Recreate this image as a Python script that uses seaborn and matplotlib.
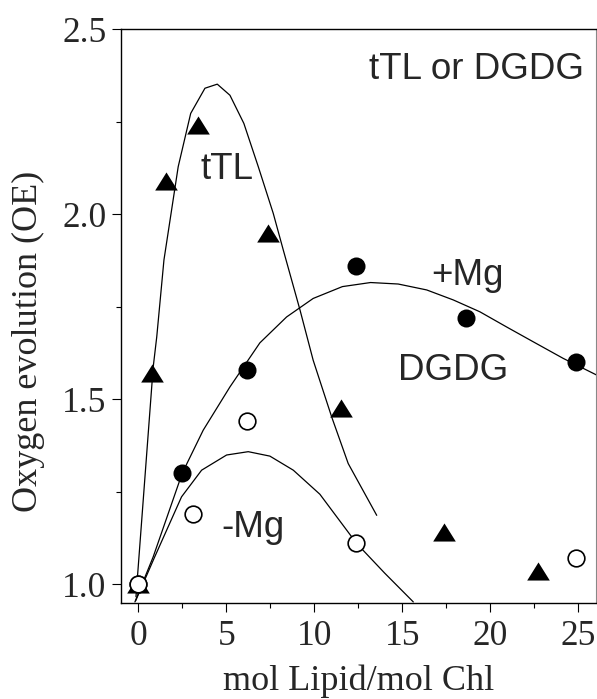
import matplotlib
matplotlib.use("Agg")
import matplotlib.pyplot as plt
from matplotlib.ticker import MultipleLocator
import seaborn as sns
import pandas as pd

# ---- data ----
# measured points
ttl_x = [0.0, 0.8, 1.6, 3.4, 7.4, 11.5, 17.4, 22.7]
ttl_y = [1.00, 1.57, 2.09, 2.24, 1.95, 1.475, 1.14, 1.035]
mg_plus_x = [0.0, 2.5, 6.2, 12.4, 18.6, 24.9]
mg_plus_y = [1.00, 1.30, 1.58, 1.86, 1.72, 1.60]
mg_minus_x = [0.0, 3.1, 6.2, 12.4, 24.85]
mg_minus_y = [1.00, 1.19, 1.44, 1.11, 1.07]

# fitted curves (polyline vertices)
ttl_fit_x = [-0.13, 0.85, 1.05, 1.46, 2.27, 2.98, 3.79, 4.49, 5.21, 6.0, 6.82,
             7.67, 8.24, 9.19, 9.94, 10.99, 11.93, 13.55]
ttl_fit_y = [0.966, 1.587, 1.668, 1.876, 2.128, 2.272, 2.340, 2.351, 2.321,
             2.245, 2.128, 2.002, 1.903, 1.741, 1.605, 1.452, 1.326, 1.186]
plus_fit_x = [-0.19, 0.85, 2.5, 3.69, 5.21, 6.91, 8.43, 9.94, 11.6, 13.2,
              14.77, 16.39, 17.9, 19.41, 20.93, 22.44, 24.15, 26.05]
plus_fit_y = [0.952, 1.074, 1.30, 1.416, 1.533, 1.652, 1.722, 1.772, 1.804,
              1.815, 1.811, 1.795, 1.768, 1.736, 1.695, 1.655, 1.610, 1.565]
minus_fit_x = [-0.15, 0.9, 2.46, 3.60, 5.02, 6.25, 7.48, 8.81, 10.32, 12.41,
               14.0, 15.63]
minus_fit_y = [0.955, 1.07, 1.236, 1.308, 1.349, 1.358, 1.346, 1.308, 1.243,
               1.110, 1.03, 0.952]

x_ticks = [0, 5, 10, 15, 20, 25]
y_ticks = [1.0, 1.5, 2.0, 2.5]

# ---- plotting ----
sns.set_style("white")
plt.rcParams["font.family"] = ["Liberation Serif", "DejaVu Serif"]

fig = plt.figure(figsize=(5.97, 6.99), dpi=100)
ax = fig.add_axes([0.2027, 0.1378, 0.7953, 0.8207])

lw = 0.9
for fx, fy in [(ttl_fit_x, ttl_fit_y), (plus_fit_x, plus_fit_y),
               (minus_fit_x, minus_fit_y)]:
    sns.lineplot(data=pd.DataFrame({"x": fx, "y": fy}), x="x", y="y",
                 sort=False, estimator=None, color="black", linewidth=lw,
                 ax=ax, zorder=2)

tri = [(-1, -0.8), (1, -0.8), (0, 0.8), (-1, -0.8)]
sns.scatterplot(data=pd.DataFrame({"x": ttl_x, "y": ttl_y}), x="x", y="y",
                marker=tri, s=16.3**2, color="black", edgecolor="black",
                linewidth=0, ax=ax, zorder=3)
sns.scatterplot(data=pd.DataFrame({"x": mg_plus_x, "y": mg_plus_y}), x="x",
                y="y", marker="o", s=13**2, color="black", edgecolor="black",
                linewidth=0, ax=ax, zorder=4)
sns.scatterplot(data=pd.DataFrame({"x": mg_minus_x, "y": mg_minus_y}), x="x",
                y="y", marker="o", s=12**2, facecolor="white",
                edgecolor="black", linewidth=1.2, ax=ax, zorder=5)

ax.set_xlim(-0.98, 26.0)
ax.set_ylim(0.95, 2.5)
ax.set_xticks(x_ticks)
ax.set_yticks(y_ticks)
ax.set_yticklabels([f"{v:.1f}" for v in y_ticks])
ax.xaxis.set_minor_locator(MultipleLocator(2.5))
ax.yaxis.set_minor_locator(MultipleLocator(0.25))
ax.tick_params(axis="both", which="major", direction="out", length=6.5,
               width=0.8, labelsize=25.5, color="black")
ax.tick_params(axis="both", which="minor", direction="out", length=3.5,
               width=0.8, color="black")
ax.tick_params(axis="y", which="both", left=True, right=False)
ax.tick_params(axis="x", which="both", bottom=True, top=False)
ax.tick_params(axis="x", which="major", pad=6)
ax.tick_params(axis="y", which="major", pad=4)

for side in ["left", "bottom", "top"]:
    ax.spines[side].set_color("black")
    ax.spines[side].set_linewidth(1.0)
ax.spines["right"].set_color("#888888")
ax.spines["right"].set_linewidth(0.8)

ax.set_xlabel("mol Lipid/mol Chl", fontsize=26, labelpad=8)
ax.set_ylabel("Oxygen evolution (OE)", fontsize=26)
ax.yaxis.set_label_coords(-0.16, 0.456)

sans = ["Liberation Sans", "DejaVu Sans"]
fs = 26.5
ax.text(19.2, 2.39, "tTL or DGDG", fontsize=fs, family=sans,
        ha="center", va="center")
ax.text(5.04, 2.12, "tTL", fontsize=fs, family=sans, ha="center", va="center")
ax.text(18.7, 1.835, "+Mg", fontsize=fs, family=sans, ha="center",
        va="center")
ax.text(17.9, 1.576, "DGDG", fontsize=fs, family=sans, ha="center",
        va="center")
ax.text(6.5, 1.154, "-Mg", fontsize=fs, family=sans, ha="center",
        va="center")

fig.savefig("out.png", dpi=100)
